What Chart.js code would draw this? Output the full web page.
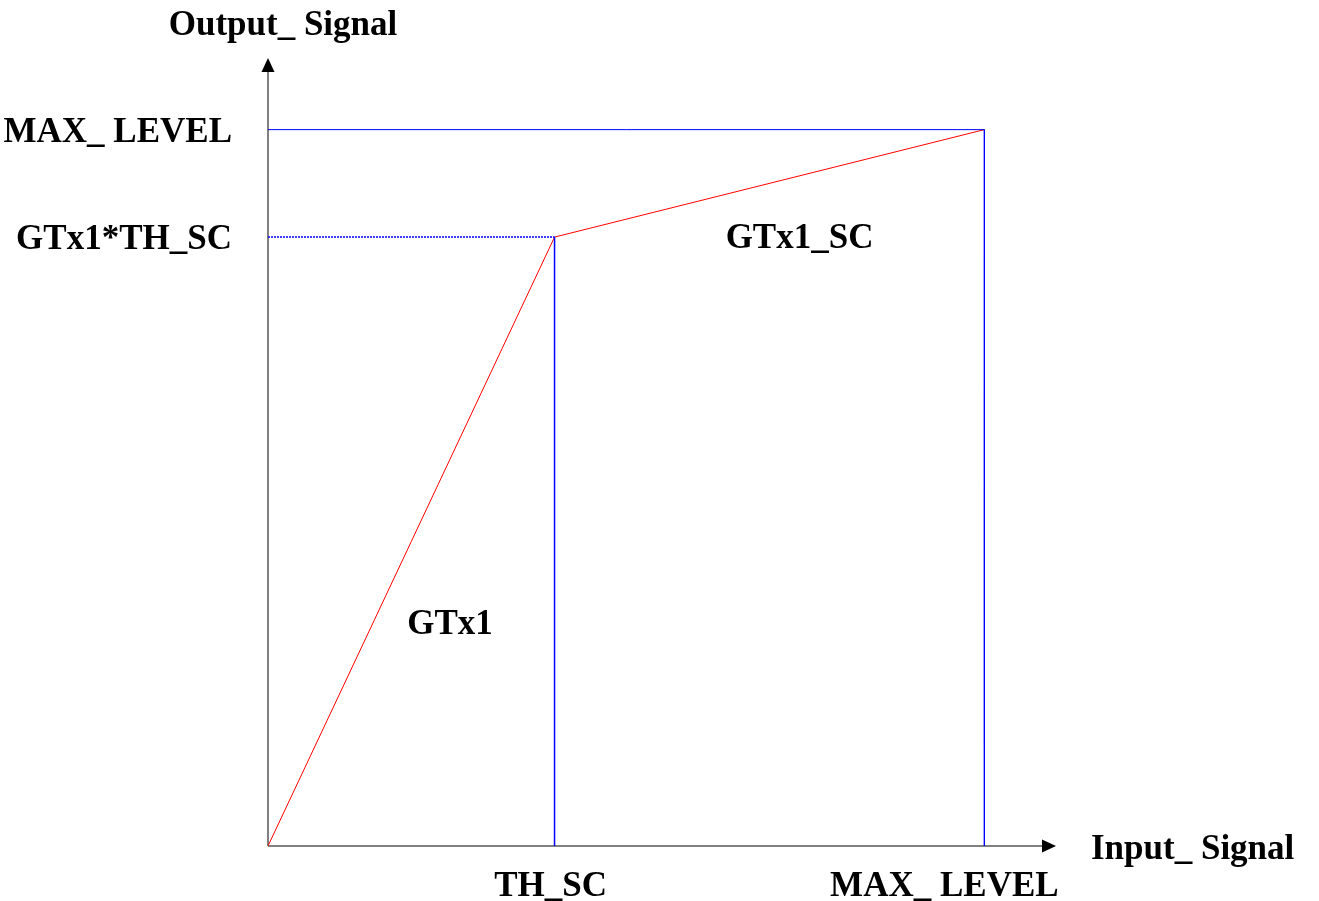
<!DOCTYPE html>
<html>
<head>
<meta charset="utf-8">
<script src="https://cdn.jsdelivr.net/npm/chart.js@4/dist/chart.umd.min.js"></script>
<style>
  html, body { margin: 0; padding: 0; background: #fff; }
  #wrap { width: 1319px; height: 901px; }
</style>
</head>
<body>
<div id="wrap"><canvas id="gainChart" width="1319" height="901"></canvas></div>
<script>
// Giá trị (đơn vị tương đối, MAX_LEVEL = 100)
const TH_SC = 40;
const KNEE_OUT = 85;
const MAX_LEVEL = 100;

const curveX = [0, TH_SC, MAX_LEVEL];
const curveY = [0, KNEE_OUT, MAX_LEVEL];

const xTickValues = [TH_SC, MAX_LEVEL];
const xTickLabels = ['TH_SC', 'MAX_ LEVEL'];
const yTickValues = [MAX_LEVEL, KNEE_OUT];
const yTickLabels = ['MAX_ LEVEL', 'GTx1*TH_SC'];

const regionLabels = ['GTx1', 'GTx1_SC'];
const regionX = [25.4, 74.2];
const regionY = [31.3, 85.2];

const xTitle = 'Input_ Signal';
const yTitle = 'Output_ Signal';

const FONT = 'bold 35px "Liberation Serif", serif';

function pts(xs, ys) {
    return xs.map((x, i) => ({ x: x, y: ys[i] }));
}

// Plugin vẽ trục có mũi tên và nhãn
const axesPlugin = {
    id: 'arrowAxes',
    beforeDatasetsDraw(chart) {
        const ctx = chart.ctx;
        const xs = chart.scales.x, ys = chart.scales.y;
        const x0 = xs.getPixelForValue(0), y0 = ys.getPixelForValue(0);
        const xEnd = xs.right, yEnd = ys.top;
        ctx.save();
        ctx.strokeStyle = '#808080';
        ctx.lineWidth = 2;
        ctx.beginPath();
        ctx.moveTo(x0, y0); ctx.lineTo(xEnd - 12, y0);
        ctx.moveTo(x0, y0); ctx.lineTo(x0, yEnd + 12);
        ctx.stroke();
        ctx.fillStyle = '#000';
        ctx.beginPath();
        ctx.moveTo(xEnd, y0); ctx.lineTo(xEnd - 14, y0 - 6.5); ctx.lineTo(xEnd - 14, y0 + 6.5);
        ctx.closePath(); ctx.fill();
        ctx.beginPath();
        ctx.moveTo(x0, yEnd); ctx.lineTo(x0 - 6.5, yEnd + 14); ctx.lineTo(x0 + 6.5, yEnd + 14);
        ctx.closePath(); ctx.fill();
        ctx.restore();
    },
    afterDraw(chart) {
        const ctx = chart.ctx;
        const xs = chart.scales.x, ys = chart.scales.y;
        const x0 = xs.getPixelForValue(0), y0 = ys.getPixelForValue(0);
        ctx.save();
        ctx.font = FONT;
        ctx.fillStyle = '#000';
        ctx.textBaseline = 'middle';
        // nhãn trục y
        ctx.textAlign = 'right';
        yTickValues.forEach((v, i) => {
            ctx.fillText(yTickLabels[i], x0 - 36, ys.getPixelForValue(v) + 3);
        });
        // nhãn trục x
        ctx.textAlign = 'center';
        const xOffsets = [-4, -40];
        xTickValues.forEach((v, i) => {
            ctx.fillText(xTickLabels[i], xs.getPixelForValue(v) + xOffsets[i], y0 + 41);
        });
        // tiêu đề trục
        ctx.textAlign = 'left';
        ctx.fillText(xTitle, xs.right + 35, y0 + 4);
        ctx.textAlign = 'center';
        ctx.fillText(yTitle, x0 + 15, ys.top - 32);
        // nhãn vùng
        regionLabels.forEach((t, i) => {
            ctx.fillText(t, xs.getPixelForValue(regionX[i]), ys.getPixelForValue(regionY[i]) + 3);
        });
        ctx.restore();
    }
};

const ctx = document.getElementById('gainChart').getContext('2d');
new Chart(ctx, {
    type: 'scatter',
    data: {
        datasets: [
            {
                label: 'box',
                data: pts([0, MAX_LEVEL, MAX_LEVEL], [MAX_LEVEL, MAX_LEVEL, 0]),
                showLine: true, borderColor: '#0000ff', borderWidth: 1, pointRadius: 0
            },
            {
                label: 'th',
                data: pts([TH_SC, TH_SC], [KNEE_OUT, 0]),
                showLine: true, borderColor: '#0000ff', borderWidth: 1.5, pointRadius: 0
            },
            {
                label: 'knee',
                data: pts([0, TH_SC], [KNEE_OUT, KNEE_OUT]),
                showLine: true, borderColor: '#0000ff', borderWidth: 1.5, borderDash: [2, 1], pointRadius: 0
            },
            {
                label: 'curve',
                data: pts(curveX, curveY),
                showLine: true, borderColor: '#ff0000', borderWidth: 1, pointRadius: 0
            }
        ]
    },
    options: {
        responsive: false,
        animation: false,
        layout: { padding: { left: 268, right: 263, top: 58, bottom: 55 } },
        scales: {
            x: { type: 'linear', min: 0, max: 110, display: false },
            y: { type: 'linear', min: 0, max: 110, display: false }
        },
        plugins: { legend: { display: false }, tooltip: { enabled: false } }
    },
    plugins: [axesPlugin]
});
</script>
</body>
</html>
